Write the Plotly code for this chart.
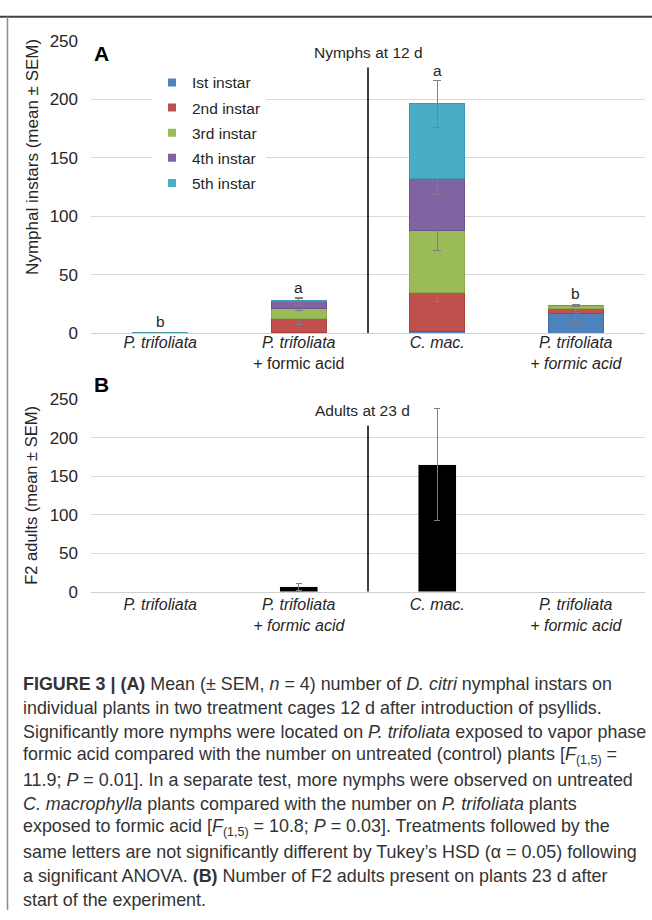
import plotly.graph_objects as go

# ---------------- data ----------------
x_pos = [0, 1, 2, 3]
tick_top = ["<i>P. trifoliata</i>",
            "<i>P. trifoliata</i><br>+ formic acid",
            "<i>C. mac.</i>",
            "<i>P. trifoliata</i><br><i>+ formic acid</i>"]
tick_bottom = ["<i>P. trifoliata</i>",
               "<i>P. trifoliata</i><br><i>+ formic acid</i>",
               "<i>C. mac.</i>",
               "<i>P. trifoliata</i><br><i>+ formic acid</i>"]

instar_names = ["Ist instar", "2nd instar", "3rd instar", "4th instar", "5th instar"]
instar1 = [0.5, 0.8, 1.0, 16.8]
instar1_sem = [0.3, 0.6, 1.2, 7.8]
instar2 = [0.0, 12.0, 34.0, 4.4]
instar2_sem = [0.0, 5.5, 8.0, 3.2]
instar3 = [0.0, 8.4, 53.0, 2.2]
instar3_sem = [0.0, 2.2, 17.5, 0.5]
instar4 = [0.0, 5.6, 44.0, 0.0]
instar4_sem = [0.0, 3.4, 13.0, 0.0]
instar5 = [0.0, 1.4, 64.0, 0.0]
instar5_sem = [0.0, 1.4, 20.0, 0.0]
sig_letters = ["b", "a", "a", "b"]

adults = [None, 6.4, 165.0, None]
adults_sem = [None, 4.2, 73.0, None]

instar_colors = ["#4F81BD", "#C0504D", "#9BBB59", "#8064A2", "#4BACC6"]
instar_edges = ["#3F6FAE", "#B03F3C", "#8AAA48", "#6F5391", "#3A9BB5"]

caption_lines = [
    "<b>FIGURE 3 | (A)</b> Mean (± SEM, <i>n</i> = 4) number of <i>D. citri</i> nymphal instars on",
    "individual plants in two treatment cages 12 d after introduction of psyllids.",
    "Significantly more nymphs were located on <i>P. trifoliata</i> exposed to vapor phase",
    "formic acid compared with the number on untreated (control) plants [<i>F</i><sub>(1,5)</sub> =",
    "11.9; <i>P</i> = 0.01]. In a separate test, more nymphs were observed on untreated",
    "<i>C. macrophylla</i> plants compared with the number on <i>P. trifoliata</i> plants",
    "exposed to formic acid [<i>F</i><sub>(1,5)</sub> = 10.8; <i>P</i> = 0.03]. Treatments followed by the",
    "same letters are not significantly different by Tukey’s HSD (α = 0.05) following",
    "a significant ANOVA. <b>(B)</b> Number of F2 adults present on plants 23 d after",
    "start of the experiment.",
]

# ---------------- figure ----------------
W, H = 652, 920
def px(v):
    return v / W
def py(v):
    return (H - v) / H

FONT = "Liberation Sans, Arial, sans-serif"
TXT = "#262626"

fig = go.Figure()

series = [instar1, instar2, instar3, instar4, instar5]
sems = [instar1_sem, instar2_sem, instar3_sem, instar4_sem, instar5_sem]
for name, vals, err, col, edge in zip(instar_names, series, sems, instar_colors, instar_edges):
    fig.add_trace(go.Bar(
        x=x_pos, y=vals, name=name, width=0.4,
        marker=dict(color=col, line=dict(color=edge, width=1)),
        error_y=dict(type="data", array=err, color="#7F7F7F", thickness=1, width=4),
        xaxis="x", yaxis="y", showlegend=False,
    ))
    fig.add_trace(go.Scatter(
        x=[None], y=[None], mode="markers", name=name, legendgroup=name,
        marker=dict(symbol="square", size=8, color=col),
        xaxis="x", yaxis="y", showlegend=True,
    ))

fig.add_trace(go.Bar(
    x=x_pos, y=adults, width=0.275, marker=dict(color="#000000"),
    error_y=dict(type="data", array=adults_sem, color="#7F7F7F", thickness=1, width=3),
    xaxis="x2", yaxis="y2", showlegend=False,
))

ytick_font = dict(size=17, color=TXT, family=FONT)
xtick_font = dict(size=16, color=TXT, family=FONT)
fig.update_layout(
    width=W, height=H, margin=dict(l=0, r=0, t=0, b=0),
    paper_bgcolor="white", plot_bgcolor="white",
    barmode="stack",
    font=dict(family=FONT, size=15, color=TXT),
    xaxis=dict(domain=[px(91), px(645)], range=[-0.5, 3.5], anchor="y",
               tickvals=x_pos, ticktext=tick_top, showgrid=False, zeroline=False,
               showline=True, linecolor="#D0D0D0", linewidth=1, ticks="",
               tickfont=xtick_font, ticklabelstandoff=-5),
    yaxis=dict(domain=[py(331), py(32.5)], range=[0, 250], dtick=50, anchor="x",
               showgrid=True, gridcolor="#D9D9D9", gridwidth=1, zeroline=False,
               showline=False, ticks="", tickfont=ytick_font, ticklabelstandoff=12),
    xaxis2=dict(domain=[px(91), px(645)], range=[-0.5, 3.5], anchor="y2",
                tickvals=x_pos, ticktext=tick_bottom, showgrid=False, zeroline=False,
                showline=True, linecolor="#D0D0D0", linewidth=1, ticks="",
                tickfont=xtick_font, ticklabelstandoff=-2),
    yaxis2=dict(domain=[py(595), py(398.3)], range=[0, 250], dtick=50, anchor="x2",
                showgrid=True, gridcolor="#D9D9D9", gridwidth=1, zeroline=False,
                showline=False, ticks="", tickfont=ytick_font, ticklabelstandoff=12),
    legend=dict(x=px(152), y=py(58), xanchor="left", yanchor="top",
                bgcolor="white", borderwidth=0, font=dict(size=15.5, color=TXT, family=FONT),
                traceorder="grouped", tracegroupgap=2, itemwidth=30),
    showlegend=True,
)

shapes = [
    dict(type="line", xref="paper", yref="paper", x0=0, x1=1, y0=py(8), y1=py(8),
         line=dict(color="#404040", width=2)),
    dict(type="line", xref="paper", yref="paper", x0=px(7.5), x1=px(7.5), y0=py(8), y1=0,
         line=dict(color="#8C8C8C", width=1.5)),
    dict(type="line", xref="x", yref="y", x0=1.5, x1=1.5, y0=0, y1=228,
         line=dict(color="#000000", width=1.5)),
    dict(type="line", xref="x2", yref="y2", x0=1.5, x1=1.5, y0=0, y1=216,
         line=dict(color="#000000", width=1.5)),
]
fig.update_layout(shapes=shapes)

ann = []
ann.append(dict(text="<b>A</b>", x=px(92), y=py(45), xref="paper", yref="paper",
                xanchor="left", yanchor="middle", showarrow=False,
                font=dict(size=21, color="#000000", family=FONT)))
ann.append(dict(text="<b>B</b>", x=px(92), y=py(383), xref="paper", yref="paper",
                xanchor="left", yanchor="middle", showarrow=False,
                font=dict(size=21, color="#000000", family=FONT)))
ann.append(dict(text="Nymphs at 12 d", x=px(369), y=py(44), xref="paper", yref="paper",
                xanchor="center", yanchor="middle", showarrow=False, bgcolor="white",
                borderpad=6, font=dict(size=15.5, color=TXT)))
ann.append(dict(text="Adults at 23 d", x=px(362), y=py(410), xref="paper", yref="paper",
                xanchor="center", yanchor="middle", showarrow=False, bgcolor="white",
                borderpad=6, font=dict(size=15.5, color=TXT)))
ann.append(dict(text="Nymphal instars (mean ± SEM)", x=px(33), y=py(151), xref="paper",
                yref="paper", textangle=-90, xanchor="center", yanchor="middle",
                showarrow=False, font=dict(size=17, color=TXT)))
ann.append(dict(text="F2 adults (mean ± SEM)", x=px(31), y=py(497), xref="paper",
                yref="paper", textangle=-90, xanchor="center", yanchor="middle",
                showarrow=False, font=dict(size=16.5, color=TXT)))

for i, letter in enumerate(sig_letters):
    tops = []
    cum = 0.0
    for vals, err in zip(series, sems):
        cum += vals[i]
        tops.append(cum + err[i])
    ann.append(dict(text=letter, x=x_pos[i], y=max(tops), xref="x", yref="y",
                    xanchor="center", yanchor="bottom", yshift=0, showarrow=False,
                    font=dict(size=15.5, color=TXT)))

for k, line in enumerate(caption_lines):
    ann.append(dict(text=line, x=px(21), y=py(689 + 24.5 * k), xref="paper", yref="paper",
                    xanchor="left", yanchor="middle", showarrow=False, align="left",
                    font=dict(size=17.9, color="#333333", family=FONT)))

fig.update_layout(annotations=ann)

fig.write_html("out.html", config={"displayModeBar": False},
               post_script="document.body.style.margin='0px';")
